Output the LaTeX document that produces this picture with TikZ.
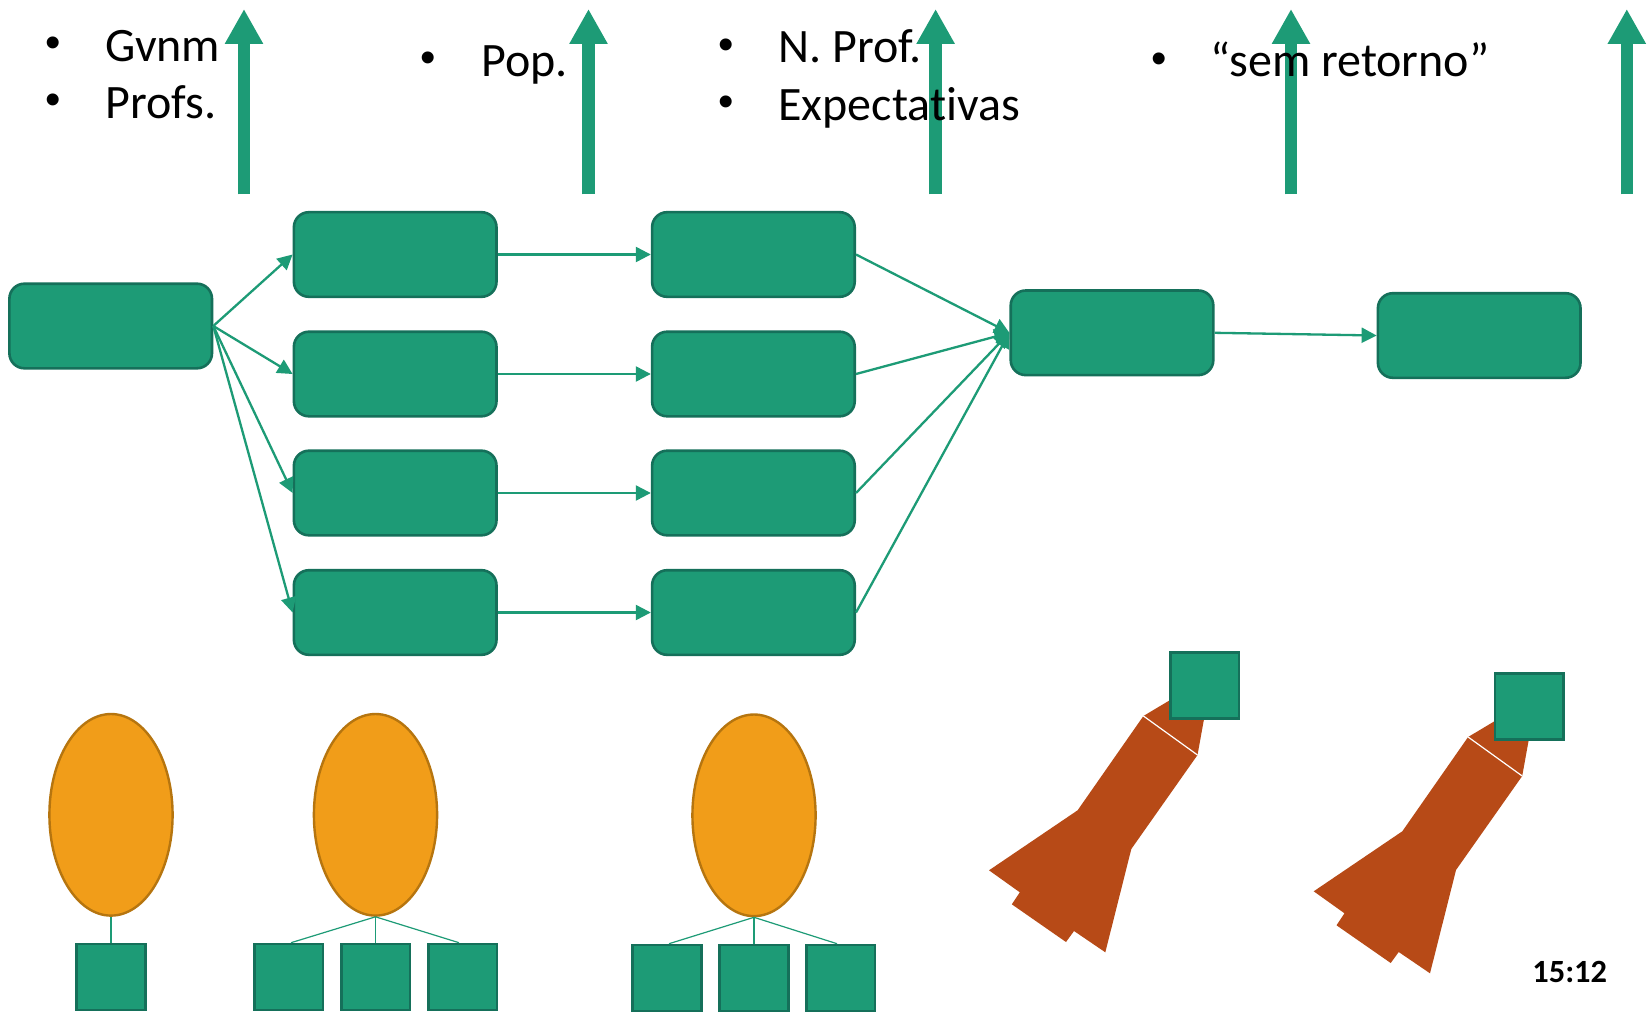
\documentclass[tikz,border=0pt]{standalone}
\usepackage{fontspec}
\setmainfont[Ligatures=NoCommon]{Carlito}
\newfontfamily\bulletfont{Liberation Sans}
\usetikzlibrary{arrows.meta,shapes.geometric}
\definecolor{grn}{HTML}{1D9B76}
\definecolor{grnd}{HTML}{15705A}
\definecolor{org}{HTML}{F19D19}
\definecolor{orgd}{HTML}{B6750F}
\definecolor{rust}{HTML}{B74A17}
\tikzset{
  flowbox/.style={draw=grnd,fill=grn,line width=1.3pt,rounded corners=7.5pt,minimum width=101.3pt,minimum height=42.3pt,inner sep=0pt},
  sqbox/.style={draw=grnd,fill=grn,line width=1.3pt,minimum width=34.3pt,minimum height=33pt,inner sep=0pt},
  egg/.style={ellipse,draw=orgd,fill=org,line width=1.2pt,minimum width=61.6pt,minimum height=100.8pt,inner sep=0pt},
  flow/.style={draw=grn,line width=1.15pt,-{Triangle[length=7.5pt,width=7.5pt]}},
  link/.style={draw=grn,line width=.6pt},
  uparrow/.style={draw=grn,line width=6.3pt,-{Triangle[length=17.5pt,width=18pt]}},
  bigtext/.style={anchor=base west,inner sep=0pt,font=\fontsize{24}{24}\selectfont},
  bul/.style={anchor=center,inner sep=0pt,font=\bulletfont\fontsize{22}{22}\selectfont},
  clock/.style={anchor=base west,inner sep=0pt,font=\fontsize{16.2}{16.2}\selectfont\bfseries}
}
\begin{document}
\begin{tikzpicture}[x=0.5pt,y=-0.5pt]
\useasboundingbox[fill=white] (0,0) rectangle (1652,1016);
% top arrows
\foreach \n/\x in {1/244,2/588.5,3/935.6,4/1291,5/1626.8}{
  \coordinate (ub\n) at (\x,194.5);
  \coordinate (ut\n) at (\x,9);
  \draw[uparrow] (ub\n) -- (ut\n);
}
% bullet lists
\node[bul] (b1) at (53,47.5) {•};
\node[bigtext] (t1) at (105,62) {Gvnm};
\node[bul] (b2) at (53,104.5) {•};
\node[bigtext] (t2) at (105,119) {Profs.};
\node[bul] (b3) at (428,62.5) {•};
\node[bigtext] (t3) at (481,77) {Pop.};
\node[bul] (b4) at (726,49.5) {•};
\node[bigtext] (t4) at (778,63) {N. Prof.};
\node[bul] (b5) at (726,106.5) {•};
\node[bigtext] (t5) at (778,120.5) {Expectativas};
\node[bul] (b6) at (1159,63.5) {•};
\node[bigtext] (t6) at (1210,77) {“sem retorno”};
% flow boxes
\node[flowbox] (start) at (110.7,326) {};
\node[flowbox] (a1) at (395.2,254.5) {};
\node[flowbox] (a2) at (395.2,374) {};
\node[flowbox] (a3) at (395.2,493) {};
\node[flowbox] (a4) at (395.2,612.5) {};
\node[flowbox] (c1) at (753.4,254.5) {};
\node[flowbox] (c2) at (753.4,374) {};
\node[flowbox] (c3) at (753.4,493) {};
\node[flowbox] (c4) at (753.4,612.5) {};
\node[flowbox] (d) at (1112,332.8) {};
\node[flowbox] (e) at (1479.2,335.5) {};
\foreach \i in {1,2,3,4}{
  \draw[flow] (start.east) -- (a\i.west);
  \draw[flow] (a\i.east) -- (c\i.west);
  \draw[flow] (c\i.east) -- (d.west);
}
\draw[flow] (d.east) -- (e.west);
% ellipses and squares
\node[egg] (o1) at (111,814.8) {};
\node[egg] (o2) at (375.5,814.8) {};
\node[egg] (o3) at (754,815.3) {};
\node[sqbox] (s1) at (111,977) {};
\node[sqbox] (s2) at (288.5,977) {};
\node[sqbox] (s3) at (375.5,977) {};
\node[sqbox] (s4) at (462.5,977) {};
\node[sqbox] (s5) at (667,978) {};
\node[sqbox] (s6) at (754,978) {};
\node[sqbox] (s7) at (840.5,978) {};
\draw[link] (o1.south) -- (s1.north);
\draw[link] (o2.south) -- ([xshift=1.25pt]s2.north);
\draw[link] (o2.south) -- (s3.north);
\draw[link] (o2.south) -- ([xshift=-1.75pt]s4.north);
\draw[link] (o3.south) -- ([xshift=1pt]s5.north);
\draw[link] (o3.south) -- (s6.north);
\draw[link] (o3.south) -- ([xshift=-1.75pt]s7.north);
% rockets
\foreach \dx/\dy/\nm in {0/0/r1,324.7/21/r2}{
  \begin{scope}[shift={(\dx,\dy)}]
    \fill[rust] (1143.4,716) -- (1169,700.7) -- (1204,719) -- (1197.5,755) -- cycle;
    \fill[rust] (1143.4,716) -- (1197.5,755) -- (1131.3,849) -- (1105.3,952.3) -- (1074,931)
      -- (1066,942) -- (1011.8,904.3) -- (1019.8,892.3) -- (989,870.3) -- (1077.6,810.3) -- cycle;
    \draw[white,line width=.6pt] (1143.4,716) -- (1197.5,755);
    \node[sqbox] (\nm) at (1204.7,685.5) {};
  \end{scope}
}
\node[clock] (time) at (1532,982) {15:12};
\end{tikzpicture}
\end{document}
